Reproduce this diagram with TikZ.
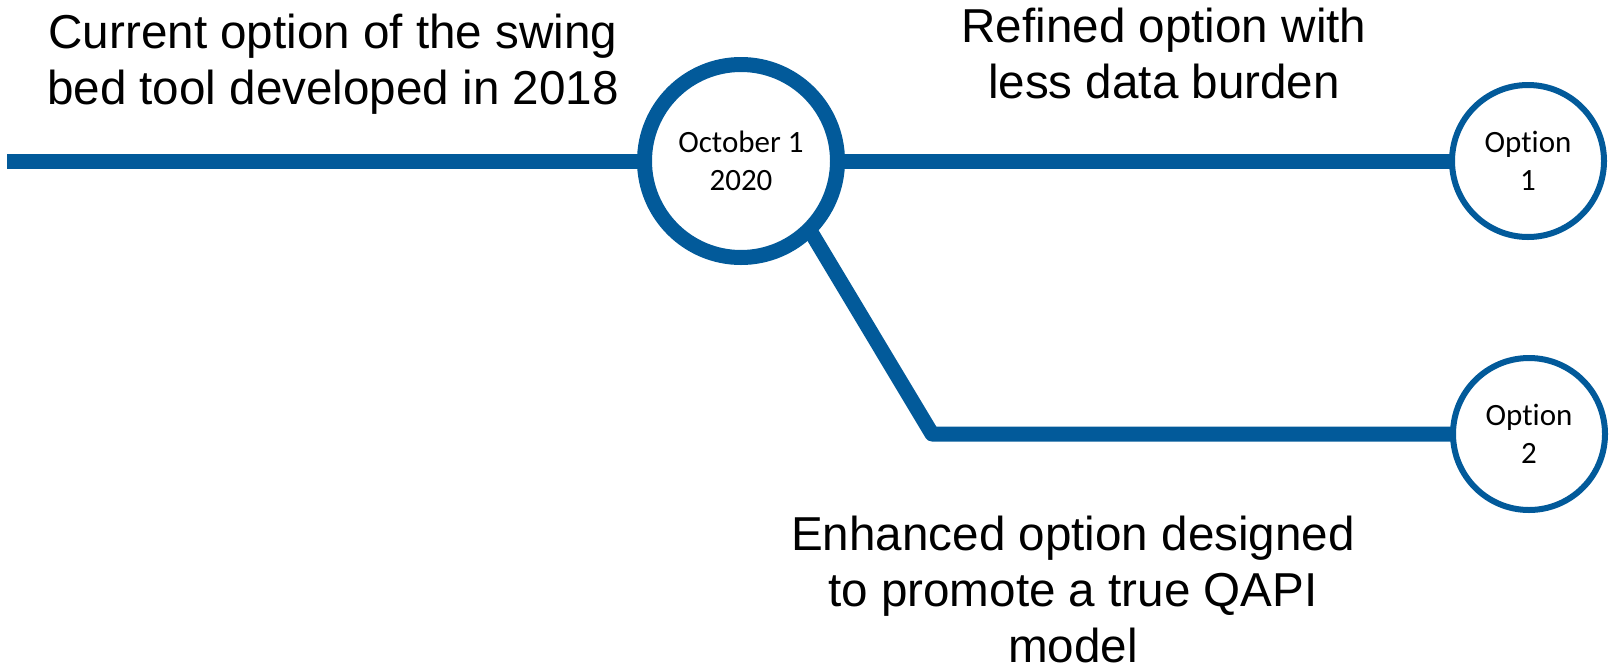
\documentclass[tikz,border=0pt]{standalone}
\usepackage{fontspec}
\setmainfont{Liberation Sans}
\newfontfamily\calib[Ligatures=NoCommon]{Carlito}
\usetikzlibrary{positioning}
\definecolor{tlblue}{RGB}{2,90,154}

\begin{document}
\begin{tikzpicture}[x=1pt,y=-1pt,
  track/.style={draw=tlblue,line width=15pt,line join=round},
  bigdot/.style={circle,draw=tlblue,fill=white,line width=15pt,
    minimum size=193pt,inner sep=0pt,outer sep=0pt,align=center,
    font=\calib\fontsize{31}{38}\selectfont},
  optdot/.style={circle,draw=tlblue,fill=white,line width=6pt,
    minimum size=152pt,inner sep=0pt,outer sep=0pt,align=center,
    font=\calib\fontsize{31}{38}\selectfont},
  note/.style={align=center,inner sep=0pt,anchor=base,
    font=\fontsize{47.6}{56}\selectfont}]
\useasboundingbox (0,0) rectangle (1611,670);
\node[bigdot] (oct) at (741,161) {October 1\\2020};
\node[optdot] (opta) at (1528,161) {Option\\1};
\node[optdot] (optb) at (1529,434) {Option\\2};
\coordinate (start) at (7,161);
\coordinate (bend) at (932,434);
\draw[track] (start) -- (oct.west);
\draw[track] (oct.east) -- (opta.west);
\draw[track] (oct.south east) -- (bend) -- (optb.west);
% base anchor sits on the last line
\node[note] (cur) at (333,104) {Current option of the swing\\bed tool developed in 2018};
\node[note] (ref) at (1164,98) {Refined option with\\less data burden};
\node[note] (enh) at (1073,662) {Enhanced option designed\\to promote a true QAPI\\model};
\end{tikzpicture}
\end{document}
